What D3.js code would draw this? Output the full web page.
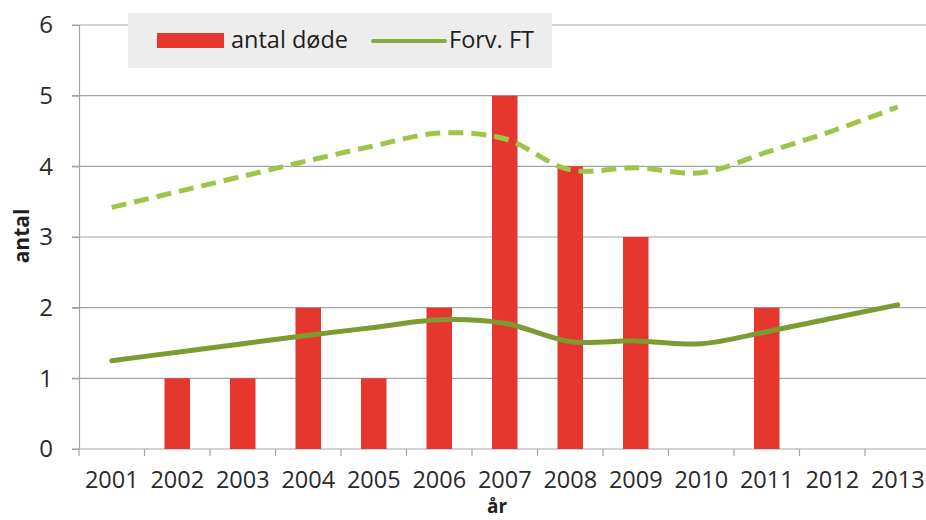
<!DOCTYPE html>
<html>
<head>
	<meta charset="utf-8">
	<title></title>
	<style>
		body { margin: 0; background: #fff; }
		text { font-family: "Open Sans", sans-serif; }
	</style>
</head>
<body>
	<svg id="container" width="926" height="520"></svg>
<script src="https://cdn.jsdelivr.net/npm/d3@7/dist/d3.min.js"></script>
<script>
	// data
	let years = ["2001","2002","2003","2004","2005","2006","2007","2008","2009","2010","2011","2012","2013"]
	let deaths = [0, 1, 1, 2, 1, 2, 5, 4, 3, 0, 2, 0, 0]
	let expected = [1.25, 1.37, 1.49, 1.61, 1.72, 1.83, 1.78, 1.52, 1.53, 1.49, 1.66, 1.85, 2.04]
	let upper = [3.42, 3.64, 3.86, 4.08, 4.29, 4.47, 4.39, 3.95, 3.98, 3.91, 4.2, 4.5, 4.84]
	let yTicks = [0, 1, 2, 3, 4, 5, 6]

	let container = d3.select("#container")

	let x = d3.scaleBand()
			.domain(years)
			.range([79, 930.5]) // plot runs a bit past the right edge of the picture
	let y = d3.scaleLinear()
			.domain([0, 6])
			.range([449, 25])

	let gridColor = "#a3a3ad"

	// gridlines
	container.append("g")
		.selectAll("line")
		.data(yTicks)
		.enter()
		.append("line")
		.attr("x1", 72)
		.attr("x2", 926)
		.attr("y1", d => y(d))
		.attr("y2", d => y(d))
		.attr("stroke", gridColor)
		.attr("stroke-width", 1.2)

	// y axis
	let yAxis = container.append("g")
		.attr("transform", "translate(79,0)")
		.call(d3.axisLeft(y).tickValues(yTicks).tickFormat(d3.format("d")).tickSize(7).tickPadding(19))
	yAxis.selectAll("line, path").attr("stroke", gridColor).attr("stroke-width", 1.2)
	yAxis.selectAll("text")
		.attr("font-size", 24)
		.attr("fill", "#2a2a2a")
		.attr("font-family", "Open Sans")

	// x axis: labels in the band centres, ticks on the band edges
	let xAxis = container.append("g")
		.attr("transform", "translate(0,449)")
		.call(d3.axisBottom(x).tickSize(0))
	xAxis.select("path").remove()
	xAxis.selectAll("text")
		.attr("y", 39)
		.attr("dy", null)
		.attr("font-size", 23.5)
		.attr("fill", "#2a2a2a")
		.attr("font-family", "Open Sans")

	let edges = years.map(d => x(d)).concat([x.range()[1]])
	xAxis.selectAll(".edge")
		.data(edges)
		.enter()
		.append("line")
		.attr("class", "edge")
		.attr("x1", d => d)
		.attr("x2", d => d)
		.attr("y1", 0)
		.attr("y2", 7)
		.attr("stroke", gridColor)
		.attr("stroke-width", 1.2)

	// bars
	let barW = x.bandwidth() * 0.39
	container.append("g")
		.selectAll("rect")
		.data(deaths.map((v, i) => ({ year: years[i], v: v })))
		.enter()
		.append("rect")
		.attr("fill", "#e6372e")
		.attr("x", d => x(d.year) + (x.bandwidth() - barW) / 2)
		.attr("width", barW)
		.attr("y", d => y(d.v))
		.attr("height", d => y(0) - y(d.v))

	let line = d3.line()
		.x((d, i) => x(years[i]) + x.bandwidth() / 2)
		.y(d => y(d))
		.curve(d3.curveCatmullRom.alpha(0.5))

	container.append("path")
		.attr("d", line(upper))
		.attr("fill", "none")
		.attr("stroke", "#9fc44a")
		.attr("stroke-width", 5)
		.attr("stroke-dasharray", "15,8")

	container.append("path")
		.attr("d", line(expected))
		.attr("fill", "none")
		.attr("stroke", "#7d9b33")
		.attr("stroke-width", 5)
		.attr("stroke-linecap", "round")

	// legend
	let legend = container.append("g")
	legend.append("rect")
		.attr("x", 128).attr("y", 13)
		.attr("width", 424).attr("height", 55)
		.attr("fill", "#ededed")
	legend.append("rect")
		.attr("x", 157).attr("y", 33)
		.attr("width", 67).attr("height", 15)
		.attr("fill", "#e6372e")
	legend.append("text")
		.attr("x", 231).attr("y", 48)
		.attr("font-size", 23.5)
		.attr("fill", "#1e1e1e")
		.text("antal døde")
	legend.append("line")
		.attr("x1", 373).attr("x2", 445)
		.attr("y1", 41).attr("y2", 41)
		.attr("stroke", "#8cab3e")
		.attr("stroke-width", 4)
		.attr("stroke-linecap", "round")
	legend.append("text")
		.attr("x", 449).attr("y", 48)
		.attr("font-size", 23.5)
		.attr("fill", "#1e1e1e")
		.text("Forv. FT")

	// axis titles
	container.append("text")
		.attr("transform", "translate(29,236) rotate(-90)")
		.attr("text-anchor", "middle")
		.attr("font-size", 21)
		.attr("font-weight", "bold")
		.attr("fill", "#1e1e1e")
		.text("antal")
	container.append("text")
		.attr("x", 497).attr("y", 513)
		.attr("text-anchor", "middle")
		.attr("font-size", 19)
		.attr("font-weight", "bold")
		.attr("fill", "#1e1e1e")
		.text("år")
</script>
</body>
</html>
